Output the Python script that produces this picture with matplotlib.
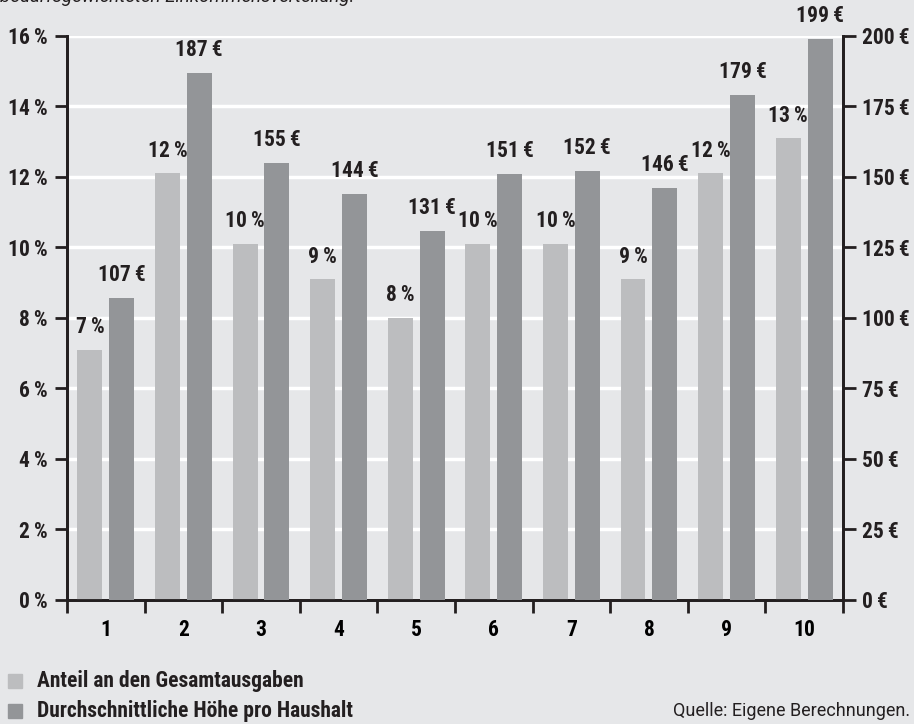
import numpy as np
import matplotlib.pyplot as plt

# Daten
gruppen = ['1', '2', '3', '4', '5', '6', '7', '8', '9', '10']
anteil = [7.1, 12.1, 10.1, 9.1, 8.0, 10.1, 10.1, 9.1, 12.1, 13.1]   # %
hoehe = [107, 187, 155, 144, 131, 151, 152, 146, 179, 199]         # Euro
y_links = [0, 2, 4, 6, 8, 10, 12, 14, 16]
y_rechts = [0, 25, 50, 75, 100, 125, 150, 175, 200]

bg = '#e6e7e9'
hell = '#bcbdbf'
dunkel = '#939598'
schwarz = '#231f20'

schrift = ['Roboto Condensed', 'Roboto', 'DejaVu Sans']
plt.rcParams['font.family'] = schrift
fs = 15.5

fig = plt.figure(figsize=(9.14, 7.24), dpi=100, facecolor=bg)
ax = fig.add_axes([0.0733, 0.1713, 0.849, 0.779])
ax.set_facecolor(bg)
ax2 = ax.twinx()

x = np.arange(len(gruppen)) + 0.5
b = 0.32
ax.bar(x - 0.205, anteil, b, color=hell, zorder=3)
ax2.bar(x + 0.205, hoehe, b, color=dunkel, zorder=3)

ax.set_xlim(0, 10)
ax.set_ylim(0, 16)
ax2.set_ylim(0, 200)

# weisse Gitterlinien
for v in y_links[1:]:
    ax.axhline(v, color='white', lw=2.5, zorder=1)

# Beschriftungen ueber den Balken
for xi, v in zip(x, anteil):
    ax.text(xi - 0.205, v + 0.33, '%d\u2009%%' % round(v), ha='center', va='bottom',
            fontsize=fs, fontweight='bold', color=schwarz)
for xi, v in zip(x, hoehe):
    ax2.text(xi + 0.205, v + 4.2, '%d\u2009€' % v, ha='center', va='bottom',
             fontsize=fs, fontweight='bold', color=schwarz)

# Achsen
for a in (ax, ax2):
    a.spines['top'].set_visible(False)
    for s in ('left', 'right', 'bottom'):
        a.spines[s].set_color(schwarz)
        a.spines[s].set_linewidth(2)
    a.tick_params(colors=schwarz, width=2, length=9, labelsize=fs, pad=5)

ax.set_yticks(y_links)
ax.set_yticklabels(['%d\u2009%%' % v for v in y_links], fontweight='bold')
ax2.set_yticks(y_rechts)
ax2.set_yticklabels(['%d\u2009€' % v for v in y_rechts], fontweight='bold')

ax.set_xticks(np.arange(11))
ax.set_xticklabels([])
ax.set_xticks(x, minor=True)
ax.set_xticklabels(gruppen, minor=True, fontweight='bold', fontsize=fs)
ax.tick_params(axis='x', which='minor', length=0, pad=14)

# Legende
fig.patches.append(plt.Rectangle((8/914, 1 - 688/724), 14/914, 14/724, color=hell, transform=fig.transFigure))
fig.patches.append(plt.Rectangle((8/914, 1 - 718/724), 14/914, 14/724, color=dunkel, transform=fig.transFigure))
fig.text(37/914, 1 - 681/724, 'Anteil an den Gesamtausgaben', va='center', fontsize=fs,
         fontweight='bold', color=schwarz)
fig.text(37/914, 1 - 711/724, 'Durchschnittliche Höhe pro Haushalt', va='center', fontsize=fs,
         fontweight='bold', color=schwarz)
fig.text(910/914, 1 - 711/724, 'Quelle: Eigene Berechnungen.', ha='right', va='center',
         fontsize=13, color=schwarz, family=['Roboto', 'DejaVu Sans'])

# abgeschnittener Text oben
fig.text(0.0, 1 - 2/724, 'bedarfsgewichteten Einkommensverteilung.', va='baseline',
         fontsize=13.5, style='italic', color=schwarz, family=['Roboto', 'DejaVu Sans'])

plt.savefig('out.png', dpi=100, facecolor=bg)
